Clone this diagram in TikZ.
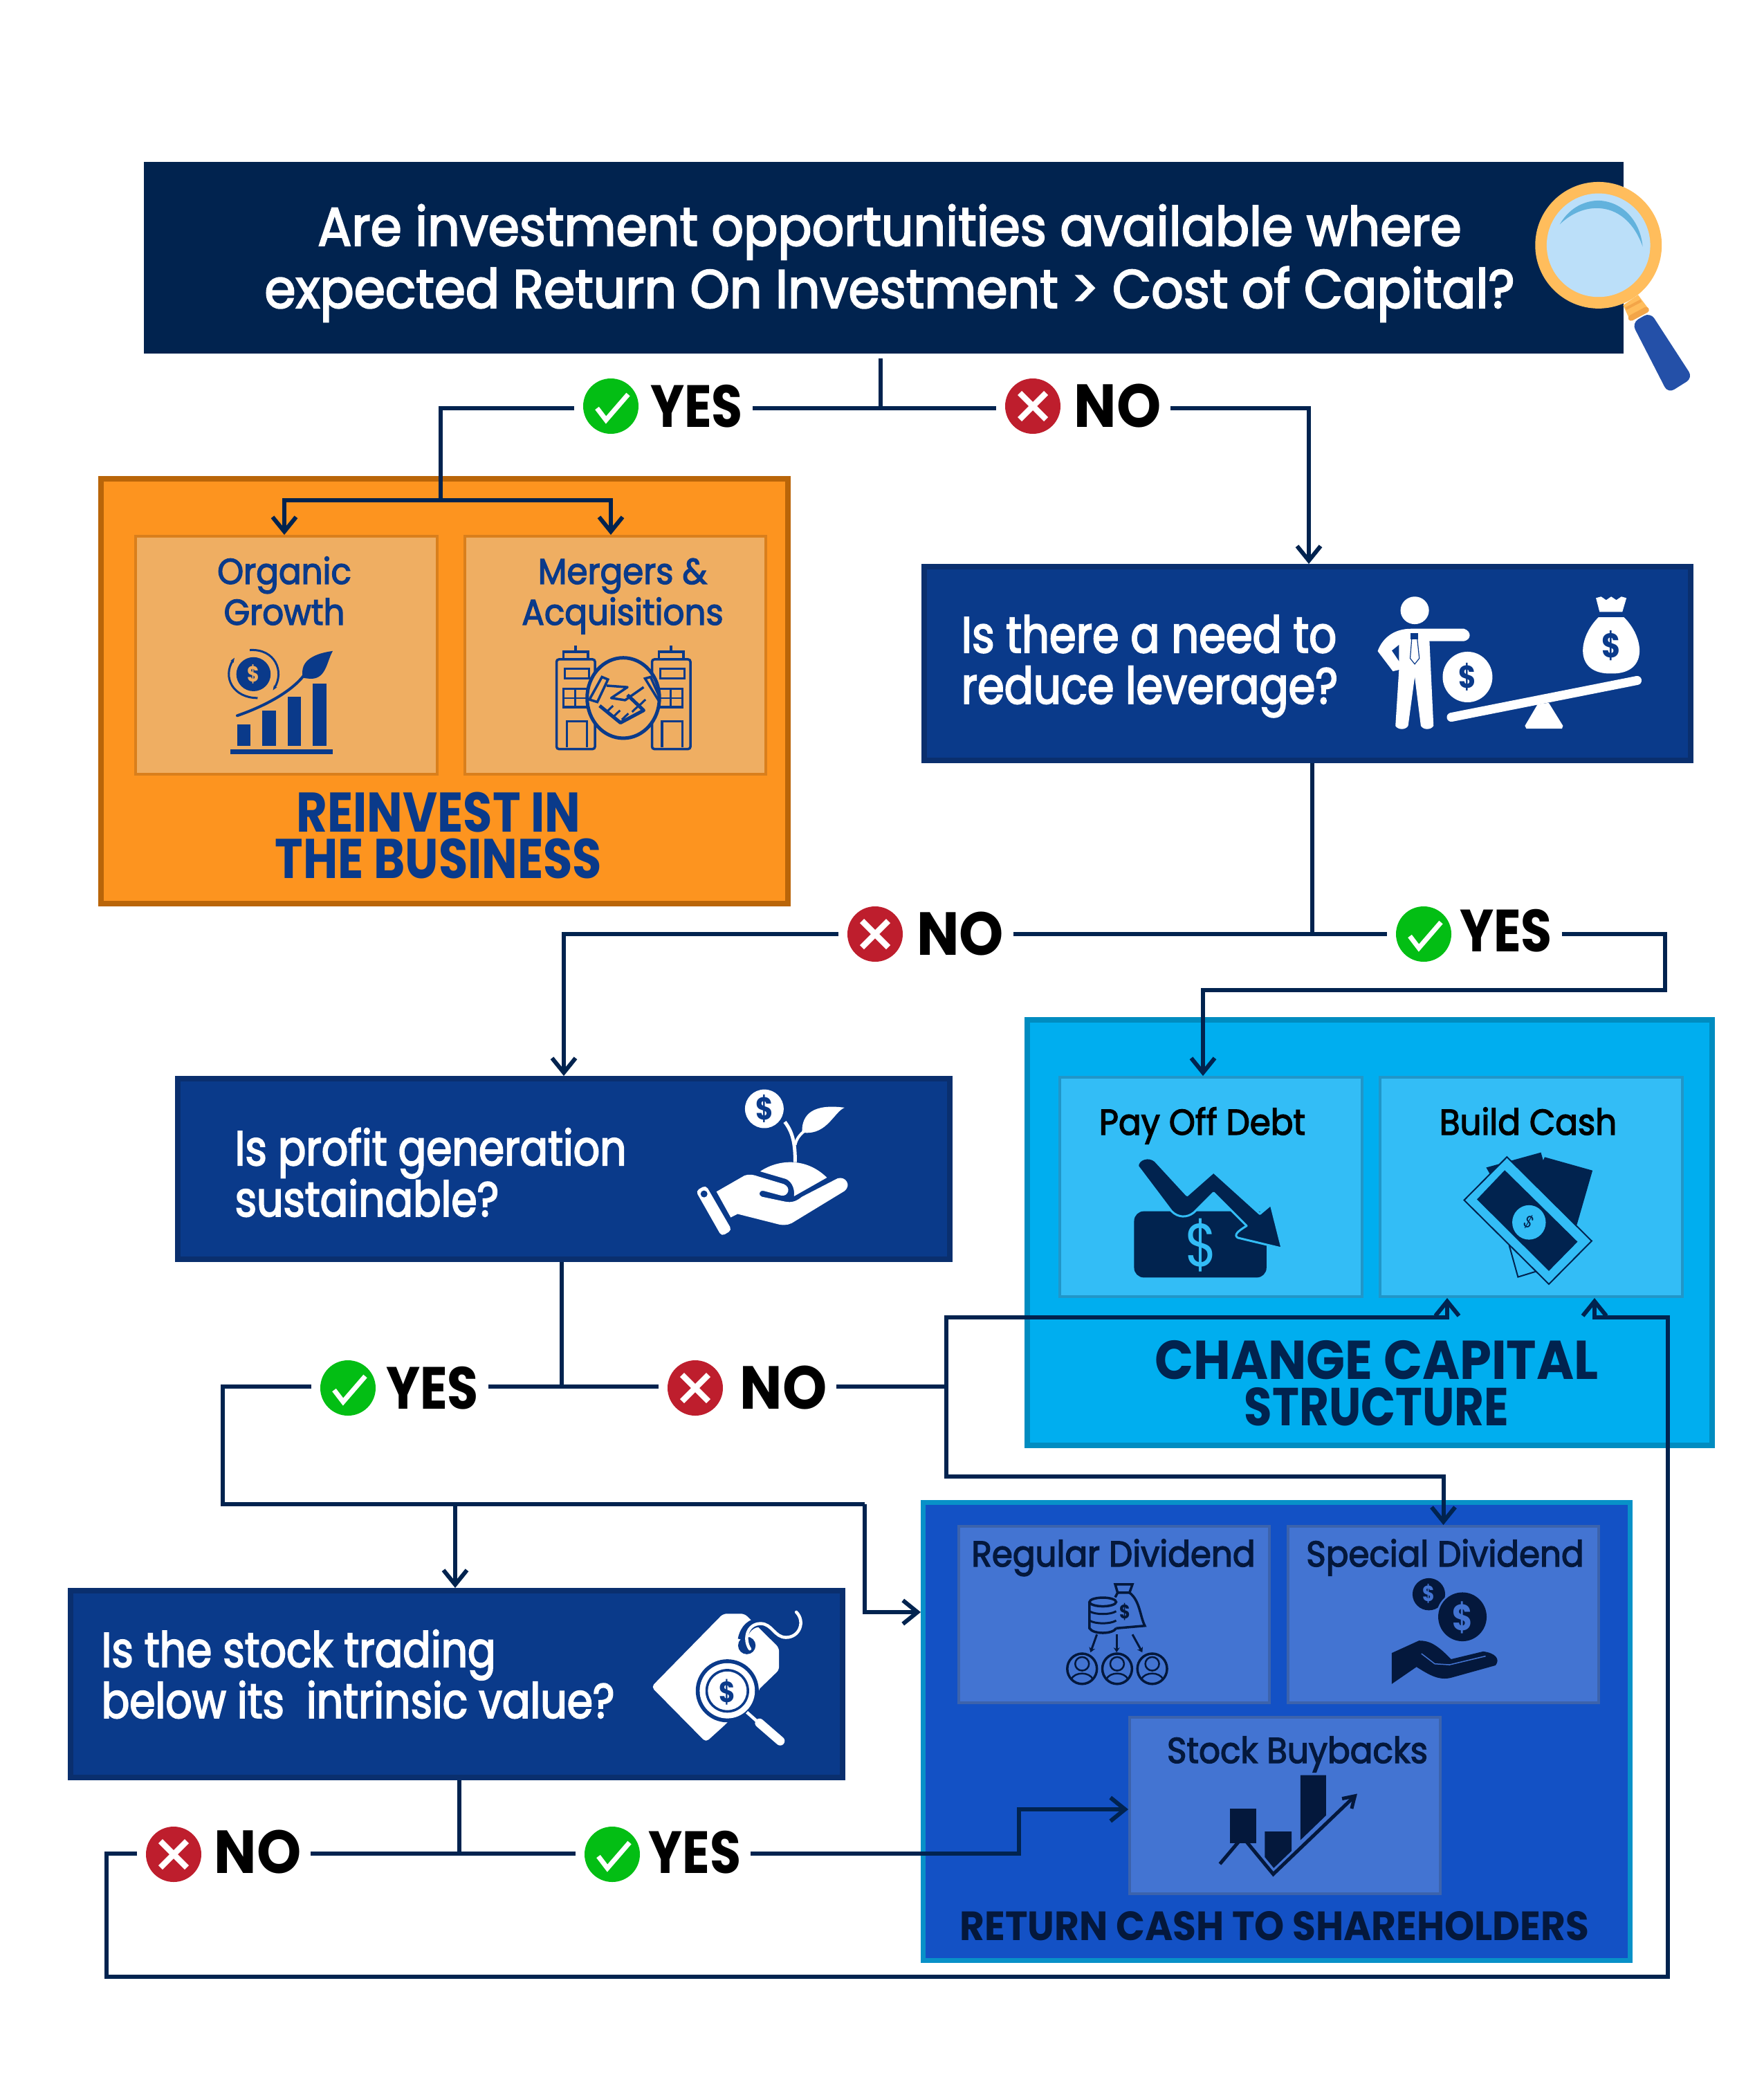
\documentclass[tikz,border=0pt]{standalone}
\usepackage{fontspec}
\usetikzlibrary{arrows.meta,positioning,calc}
\newfontfamily\gothic[FakeStretch=0.85]{Poppins}
\newfontfamily\gothicwide[FakeStretch=0.93]{Poppins}
\newfontfamily\gothicmed[FakeStretch=0.85,FakeBold=2.6]{Poppins}
\newfontfamily\gothicsemi[FakeStretch=0.93,FakeBold=2.6]{Poppins}
\definecolor{navy}{HTML}{01234F}
\definecolor{royal}{HTML}{0A3A8A}
\definecolor{royaldk}{HTML}{0A2F6E}
\definecolor{ember}{HTML}{FD941F}
\definecolor{emberdk}{HTML}{B96509}
\definecolor{sand}{HTML}{EFAE62}
\definecolor{sanddk}{HTML}{D97F1C}
\definecolor{sky}{HTML}{00AEEF}
\definecolor{skydk}{HTML}{008CC0}
\definecolor{skylt}{HTML}{33BDF6}
\definecolor{skymd}{HTML}{2196C8}
\definecolor{cobalt}{HTML}{1351C5}
\definecolor{teal}{HTML}{0891C8}
\definecolor{cobaltlt}{HTML}{4374D2}
\definecolor{cobaltmd}{HTML}{3C63AC}
\definecolor{inkdk}{HTML}{04183C}
\definecolor{okgreen}{HTML}{03BE14}
\definecolor{nored}{HTML}{BE1E2D}
\definecolor{gold}{HTML}{FFBD5C}
\definecolor{goldk}{HTML}{F3A548}
\definecolor{lens}{HTML}{BBDFF9}
\definecolor{glint}{HTML}{62B2DD}
\definecolor{grip}{HTML}{2450A8}
\tikzset{
  panel/.style n args={4}{draw=#1, fill=#2, line width=#3cm, minimum width=#4cm, inner sep=0pt},
  qbox/.style={panel={royaldk}{royal}{.08}{#1}},
  orgcard/.style={panel={sanddk}{sand}{.04}{#1}, minimum height=3.44cm},
  capcard/.style={panel={skymd}{skylt}{.04}{4.37}, minimum height=3.17cm},
  retcard/.style={panel={cobaltmd}{cobaltlt}{.04}{4.49}, minimum height=2.55cm},
  txt/.style={inner sep=0pt, anchor=base, align=center},
  qtxt/.style={txt, anchor=base west, align=left, text=white, font=\gothicmed\fontsize{20.1}{21}\selectfont},
  cardtxt/.style={txt, font=\gothicsemi\fontsize{14.8}{16.8}\selectfont},
  headtxt/.style={txt, font=\gothic\bfseries\fontsize{23}{19}\selectfont},
  yesdot/.style={circle, fill=okgreen, minimum size=.80cm, inner sep=0pt, outer sep=.13cm},
  nodot/.style={circle, fill=nored, minimum size=.80cm, inner sep=0pt, outer sep=.13cm},
  answer/.style={anchor=base, inner ysep=0pt, inner xsep=.13cm, font=\gothic\bfseries\fontsize{24.5}{24}\selectfont},
  flow/.style={draw=navy, line width=.06cm},
  arr/.style={flow, -{Straight Barb[length=.21cm,width=.34cm]}},
  icn/.style n args={4}{shift={(#1,#2)}, x=#3cm, y=-#4cm},
  coinlab/.style={inner sep=0pt, font=\gothic\bfseries\fontsize{#1}{#1}\selectfont},
}
\begin{document}
\begin{tikzpicture}[x=1cm,y=-1cm]
  \useasboundingbox (0,0) rectangle (25.5,30.25);
  \fill[white] (0,0) rectangle (25.5,30.25);

  \node[fill=navy, minimum width=21.39cm, minimum height=2.77cm, inner sep=0pt] (quest) at (12.775,3.725) {};
  \node[txt, text=white, font=\gothicsemi\fontsize{22.3}{25.6}\selectfont] (questtxt) at (12.86,4.45) {Are investment opportunities available where\\expected Return On Investment > Cost of Capital?};

  \node[panel={emberdk}{ember}{.08}{9.93}, minimum height=6.14cm] (reinvest) at (6.425,9.99) {};
  \node[orgcard=4.36] (organic) at (4.14,9.47) {};
  \node[orgcard=4.35] (mergers) at (8.895,9.47) {};
  \node[cardtxt, text=royal] (organictxt) at (4.11,9.03) {Organic\\Growth};
  \node[cardtxt, text=royal] (mergerstxt) at (9.00,9.03) {Mergers \&\\Acquisitions};
  \node[headtxt, text=royal] (reinvesttxt) at (6.34,12.69) {REINVEST IN\\THE BUSINESS};

  \node[qbox=11.08, minimum height=2.80cm] (lever) at (18.90,9.59) {};
  \node[qtxt, font=\gothicmed\fontsize{20.9}{21}\selectfont] (levertxt) at (13.89,10.17) {Is there a need to\\reduce leverage?};
  \node[qbox=11.16, minimum height=2.61cm] (profit) at (8.15,16.895) {};
  \node[qtxt] (profittxt) at (3.39,17.58) {Is profit generation\\sustainable?};
  \node[qbox=11.16, minimum height=2.70cm] (stockq) at (6.60,24.34) {};
  \node[qtxt] (stockqtxt) at (1.46,24.83) {Is the stock trading\\below its\ \ intrinsic value?};

  \node[panel={skydk}{sky}{.08}{9.90}, minimum height=6.15cm] (change) at (19.80,17.815) {};
  \node[capcard] (payoff) at (17.505,17.155) {};
  \node[capcard] (cash) at (22.135,17.155) {};
  \node[cardtxt] (payofftxt) at (17.38,16.40) {Pay Off Debt};
  \node[cardtxt] (cashtxt) at (22.09,16.40) {Build Cash};
  \node[headtxt, text=navy, font=\gothicwide\bfseries\fontsize{22.5}{19}\selectfont] (changetxt) at (19.90,20.60) {CHANGE CAPITAL\\\gothic\bfseries\fontsize{22}{19}\selectfont STRUCTURE};

  \node[panel={teal}{cobalt}{.07}{10.22}, minimum height=6.62cm] (ret) at (18.455,25.025) {};
  \node[retcard] (regular) at (16.105,23.335) {};
  \node[retcard] (special) at (20.865,23.335) {};
  \node[retcard] (buy) at (18.575,26.095) {};
  \node[cardtxt, text=inkdk] (regulartxt) at (16.095,22.64) {Regular Dividend};
  \node[cardtxt, text=inkdk] (specialtxt) at (20.89,22.64) {Special Dividend};
  \node[cardtxt, text=inkdk] (buytxt) at (18.755,25.48) {Stock Buybacks};
  \node[txt, text=inkdk, font=\gothicwide\bfseries\fontsize{16.8}{17}\selectfont] (rettxt) at (18.425,28.04) {RETURN CASH TO SHAREHOLDERS};

  \begin{scope}[icn={21.80}{2.30}{.003333}{.003333}]
    \fill[gold] (500,635) -- (565,590) -- (610,650) -- (530,700) -- cycle;
    \draw[goldk, line width=.04cm] (512,650) -- (578,615);
    \fill[grip, rounded corners=3pt] (538,712) -- (618,665) -- (803,950) -- (695,1018) -- cycle;
    \draw[goldk, line width=.085cm, line cap=round] (535,690) -- (600,655);
    \fill[gold] (393,374) circle[radius=275];
    \fill[lens] (393,374) circle[radius=225];
    \fill[glint] (225,283) .. controls (270,205) and (340,180) .. (395,180) .. controls (500,185) and (575,270) .. (585,380) .. controls (550,280) and (480,213) .. (385,213) .. controls (320,213) and (265,245) .. (225,283) -- cycle;
  \end{scope}

  \begin{scope}[icn={1.30}{6.40}{.0067}{.004464}]
    \fill[royal] (303,990) rectangle (524,1007);
    \foreach \x/\y in {318/910,372/866,427/820,481/778} \fill[royal] (\x,\y) rectangle (\x+29,980);
    \draw[royal, line width=.04cm, line cap=round] (318,882) .. controls (380,850) and (440,800) .. (465,745);
    \fill[royal] (460,760) .. controls (450,700) and (490,680) .. (524,673) .. controls (510,710) and (510,770) .. (470,762) -- cycle;
    \fill[royal] (353,748) circle[x radius=37,y radius=55];
    \node[coinlab=9, text=sand] (organiccoin) at (353,748) {\$};
    \draw[royal, line width=.03cm, -{Stealth[length=.07cm]}] (362,825) .. controls (310,825) and (285,760) .. (312,695);
    \draw[royal, line width=.03cm, -{Stealth[length=.07cm]}] (345,670) .. controls (400,665) and (420,740) .. (395,800);
    \foreach \x in {1007,1213} {
      \draw[royal, line width=.035cm, rounded corners=1pt] (\x,990) -- (\x,700) -- (\x+83,700) -- (\x+83,990) -- cycle;
      \draw[royal, line width=.035cm] (\x+15,700) -- (\x+15,675) -- (\x+68,675) -- (\x+68,700);
      \draw[royal, line width=.035cm] (\x+41,655) -- (\x+41,675);
      \draw[royal, line width=.035cm] (\x+18,730) rectangle (\x+70,762);
      \draw[royal, line width=.035cm] (\x+15,795) rectangle (\x+66,855);
      \draw[royal, line width=.025cm] (\x+40,795) -- (\x+40,855);
      \draw[royal, line width=.025cm] (\x+15,825) -- (\x+66,825);
      \draw[royal, line width=.035cm] (\x+22,985) -- (\x+22,900) -- (\x+66,900) -- (\x+66,985);
    }
    \draw[royal, fill=sand, line width=.05cm] (1151,825) circle[x radius=78,y radius=130];
    \draw[royal, line width=.035cm] (1078,830) -- (1105,757) -- (1118,765) -- (1095,838) -- cycle;
    \draw[royal, line width=.035cm] (1226,830) -- (1198,762) -- (1210,757) -- (1230,825) -- cycle;
    \draw[royal, line width=.035cm, line join=round] (1115,785) -- (1160,790) -- (1125,825) -- (1155,832) -- (1195,790);
    \draw[royal, line width=.05cm, line join=round] (1100,850) -- (1145,905) -- (1195,865) -- (1160,815);
    \foreach \x/\y in {1115/870,1130/885,1148/895,1170/870,1185/850} \draw[royal, line width=.03cm] (\x,\y) -- (\x+14,\y-20);
  \end{scope}

  \begin{scope}[icn={13.20}{8.00}{.007337}{.004146}]
    \fill[white] (988,198) circle[x radius=28,y radius=48];
    \fill[white] (950,600) -- (957,405) -- (945,410) -- (915,340) .. controls (925,290) and (950,262) .. (980,262) -- (1085,262) .. controls (1100,270) and (1100,300) .. (1085,305) -- (1017,305) -- (1025,600) .. controls (1020,615) and (1005,615) .. (1000,600) -- (988,430) -- (975,600) .. controls (970,615) and (955,615) .. (950,600) -- cycle;
    \fill[royal] (957,318) -- (943,338) -- (957,375) -- cycle;
    \fill[royal] (980,278) rectangle (995,298);
    \draw[royal, line width=.012cm] (982,298) -- (979,365) -- (988,385) -- (997,365) -- (993,298);
    \fill[white] (1092,430) circle[x radius=49,y radius=88];
    \node[coinlab=13, text=royal] (levercoin) at (1092,430) {\$};
    \fill[white] (1350,222) .. controls (1310,290) and (1300,420) .. (1375,418) .. controls (1450,420) and (1440,290) .. (1400,222) -- cycle;
    \fill[white] (1352,203) -- (1345,155) -- (1355,150) -- (1365,162) -- (1375,150) -- (1385,162) -- (1395,150) -- (1405,155) -- (1397,203) -- cycle;
    \node[coinlab=14, text=royal] (leverbag) at (1375,320) {\$};
    \draw[white, line width=.13cm, line cap=round] (1060,570) -- (1426,442);
    \fill[white] (1230,525) -- (1252,520) -- (1280,600) -- (1278,610) -- (1208,610) -- (1205,600) -- cycle;
  \end{scope}

  \begin{scope}[icn={9.00}{15.40}{.003333}{.003333}]
    \fill[white] (616,188) circle[radius=84];
    \node[coinlab=13, text=royal] (profitcoin) at (616,188) {\$};
    \draw[white, line width=.05cm] (705,245) .. controls (740,290) and (750,340) .. (750,420);
    \draw[white, line width=.04cm] (750,345) .. controls (755,320) and (770,300) .. (790,285);
    \fill[white] (780,285) .. controls (780,210) and (830,165) .. (965,183) .. controls (920,200) and (890,300) .. (790,292) -- cycle;
    \fill[white] (598,460) .. controls (680,405) and (800,400) .. (888,487) -- (745,568) .. controls (750,530) and (730,495) .. (700,490) -- cycle;
    \fill[white] (408,548) -- (530,478) .. controls (550,470) and (570,475) .. (590,482) -- (700,515) .. controls (735,530) and (720,570) .. (690,565) -- (615,545) .. controls (590,540) and (590,565) .. (605,570) -- (700,590) .. controls (740,600) and (760,585) .. (780,570) -- (935,490) .. controls (970,480) and (995,520) .. (965,545) -- (735,685) .. controls (715,695) and (690,695) .. (670,688) -- (500,645) -- (470,660) -- cycle;
    \fill[white, rounded corners=1.5pt] (318,545) -- (362,520) -- (475,715) -- (430,742) -- cycle;
    \fill[royal] (354,558) circle[radius=15];
  \end{scope}

  \begin{scope}[icn={9.00}{23.00}{.003333}{.003333}]
    \fill[white, rounded corners=1.5pt] (125,415) -- (437,97) -- (530,97) -- (680,245) -- (680,342) -- (445,580) -- (362,655) -- cycle;
    \fill[royal] (540,235) circle[radius=38];
    \draw[royal, line width=.13cm] (520,210) .. controls (530,160) and (560,135) .. (600,135);
    \fill[royal] (455,432) circle[radius=137];
    \fill[white] (455,432) circle[radius=120];
    \fill[royal] (455,432) circle[radius=95];
    \fill[white] (455,432) circle[radius=84];
    \node[coinlab=12, text=royal] (tagcoin) at (455,438) {\$};
    \fill[royal] (597,422) -- (680,342) -- (760,342) -- (760,680) -- (445,680) -- (445,580) -- (540,560) -- cycle;
    \draw[white, line width=.045cm] (540,525) -- (585,565);
    \draw[white, line width=.13cm, line cap=round] (595,572) -- (685,650);
    \draw[white, line width=.045cm, line cap=round] (553,250) .. controls (525,210) and (540,140) .. (600,140) .. controls (650,140) and (660,200) .. (710,200) .. controls (770,200) and (795,130) .. (755,90);
  \end{scope}

  \begin{scope}[icn={14.80}{15.40}{.006378}{.003827}]
    \fill[navy, rounded corners=4pt] (250,550) rectangle (550,800);
    \node[inner sep=0pt, font=\gothic\fontsize{25}{25}\selectfont, text=skylt] (payoffcoin) at (402,678) {\$};
    \fill[navy, draw=skylt, line width=.03cm, line join=round] (258,380) .. controls (258,350) and (285,340) .. (298,360) -- (370,490) -- (430,402) -- (535,560) -- (560,525) -- (585,690) -- (485,650) .. controls (475,640) and (485,625) .. (505,605) -- (430,480) -- (385,555) .. controls (370,575) and (350,575) .. (335,550) -- cycle;
    \fill[navy] (1180,348) -- (1287,398) -- (1250,610) -- (1150,450) -- cycle;
    \draw[navy, line width=.02cm] (1180,348) -- (1287,398) -- (1252,600);
    \fill[navy] (1048,385) -- (1172,328) -- (1205,520) -- (1060,420) -- cycle;
    \fill[skylt] (1100,678) -- (1120,798) -- (1165,775) -- cycle;
    \draw[navy, line width=.02cm] (1100,678) -- (1120,798) -- (1165,775);
    \fill[skylt, draw=navy, line width=.02cm] (1095,345) -- (1287,662) -- (1190,825) -- (998,508) -- cycle;
    \fill[navy] (1090,395) -- (1255,665) -- (1190,775) -- (1027,505) -- cycle;
    \fill[skylt] (1145,592) circle[x radius=38,y radius=65];
    \node[inner sep=0pt, font=\gothic\fontsize{7}{7}\selectfont, text=navy, rotate=-30] (cashcoin) at (1145,592) {\$};
  \end{scope}

  \begin{scope}[icn={13.30}{21.70}{.007143}{.004464}]
    \draw[inkdk, line width=.035cm] (343,325) -- (343,410) .. controls (350,430) and (390,430) .. (397,410);
    \draw[inkdk, line width=.035cm] (370,325) circle[x radius=27,y radius=14];
    \foreach \y in {355,385} \draw[inkdk, line width=.03cm] (343,\y) .. controls (355,\y+12) and (385,\y+12) .. (397,\y);
    \draw[inkdk, line width=.035cm] (395,268) -- (430,268) -- (424,295) -- (400,295) -- cycle;
    \draw[inkdk, line width=.035cm] (400,295) -- (395,310);
    \draw[inkdk, line width=.035cm] (424,295) .. controls (445,320) and (445,370) .. (455,402) -- (397,410);
    \node[coinlab=8, text=inkdk] (regularbag) at (415,358) {\$};
    \foreach \a/\b in {358/345,398/398,430/450} \draw[inkdk, line width=.03cm, -{Stealth[length=.07cm,width=.09cm]}] (\a,430) -- (\b,488);
    \foreach \x in {328,399,470} {
      \draw[inkdk, line width=.035cm] (\x,541) circle[x radius=30,y radius=49];
      \draw[inkdk, line width=.025cm] (\x,525) circle[x radius=14,y radius=22];
      \draw[inkdk, line width=.025cm] (\x-22,575) .. controls (\x-15,550) and (\x+15,550) .. (\x+22,575);
    }
    \fill[inkdk] (1030,300) circle[x radius=33,y radius=52];
    \node[coinlab=9, text=cobaltlt] (specialcoina) at (1030,298) {\$};
    \fill[cobaltlt] (1098,373) circle[x radius=53,y radius=84];
    \fill[inkdk] (1098,373) circle[x radius=49,y radius=79];
    \node[coinlab=15, text=cobaltlt] (specialcoinb) at (1098,375) {\$};
    \fill[inkdk] (955,590) -- (955,490) -- (1010,450) .. controls (1030,450) and (1045,460) .. (1075,510) -- (1140,485) .. controls (1165,490) and (1175,510) .. (1165,530) -- (1075,570) .. controls (1050,580) and (1030,560) .. (1005,535) -- cycle;
    \draw[cobaltlt, line width=.015cm] (1015,492) -- (1042,525) -- (1072,528) -- (1145,500);
    \fill[inkdk] (627,992) rectangle (680,1105);
    \fill[inkdk] (698,1067) -- (752,1067) -- (752,1130) -- (716,1185) -- (698,1150) -- cycle;
    \fill[inkdk] (770,885) -- (822,885) -- (822,1015) -- (770,1095) -- cycle;
    \draw[inkdk, line width=.05cm, -{Straight Barb[length=.16cm,width=.2cm]}] (607,1172) -- (653,1085) -- (715,1205) -- (885,945);
  \end{scope}

  \foreach \i/\x/\y/\tx/\ty in {1/8.83/5.87/10.07/6.17, 2/20.58/13.50/21.77/13.75, 3/5.03/20.06/6.25/20.36, 4/8.85/26.80/10.045/27.07} {
    \node[yesdot] (yesdot\i) at (\x,\y) {};
    \draw[white, line width=.07cm] ([shift={(-.20,.03)}]yesdot\i.center) -- ([shift={(-.07,.20)}]yesdot\i.center) -- ([shift={(.25,-.17)}]yesdot\i.center);
    \node[answer] (yeslab\i) at (\tx,\ty) {YES};
  }
  \foreach \i/\x/\y/\tx/\ty in {1/14.93/5.87/16.155/6.17, 2/12.65/13.50/13.88/13.80, 3/10.05/20.06/11.325/20.36, 4/2.51/26.80/3.725/27.07} {
    \node[nodot] (nodot\i) at (\x,\y) {};
    \draw[white, line width=.085cm] ([shift={(-.19,-.19)}]nodot\i.center) -- ([shift={(.19,.19)}]nodot\i.center);
    \draw[white, line width=.085cm] ([shift={(.19,-.19)}]nodot\i.center) -- ([shift={(-.19,.19)}]nodot\i.center);
    \node[answer, font=\gothicwide\bfseries\fontsize{25}{24}\selectfont] (nolab\i) at (\tx,\ty) {NO};
  }

  \coordinate (q1) at (12.73,5.18);
  \coordinate (j1) at (12.73,5.90);
  \coordinate (j2) at (6.37,7.23);
  \coordinate (j3) at (18.97,13.50);
  \coordinate (j4) at (24.07,14.31);
  \coordinate (j5) at (8.12,20.04);
  \coordinate (j6) at (3.22,21.74);
  \coordinate (j7) at (12.50,21.74);
  \coordinate (j8) at (12.50,23.30);
  \coordinate (j9) at (6.58,21.74);
  \coordinate (j10) at (13.68,20.04);
  \coordinate (j11) at (13.68,19.04);
  \coordinate (j12) at (13.68,21.34);
  \coordinate (j13) at (6.64,26.79);
  \coordinate (j14) at (14.73,26.15);
  \coordinate (j15) at (1.54,28.57);
  \coordinate (j16) at (24.11,19.04);

  \draw[flow] (q1) -- (j1) -- (yeslab1.east |- j1);
  \draw[flow] (yesdot1.west |- j1) -| (j2);
  \draw[arr] (j2) -| ([xshift=-.03cm]organic.north);
  \draw[arr] (j2) -| ([xshift=-.065cm]mergers.north);
  \draw[flow] (j1) -- (nodot1.west |- j1);
  \draw[arr] (nolab1.east |- j1) -| ([xshift=.02cm]lever.north);

  \draw[flow] (lever.south -| j3) -- (j3) -- (yesdot2.west |- j3);
  \draw[flow] (j3) -- (nolab2.east |- j3);
  \draw[arr] (nodot2.west |- j3) -| (profit.north);
  \draw[arr] (yeslab2.east |- j3) -| (j4) -| ([xshift=-.115cm]payoff.north);

  \draw[flow] (profit.south -| j5) -- (j5) -- (yeslab3.east |- j5);
  \draw[flow] (yesdot3.west |- j5) -| (j6) -- (j7);
  \draw[arr] (j7) -- (j8) -- (j8 -| ret.west);
  \draw[arr] (j9) -- (j9 |- stockq.north);
  \draw[flow] (j5) -- (nodot3.west |- j5);
  \draw[flow] (nolab3.east |- j5) -- (j10);
  \draw[arr] (j10) -- (j11) -| ([xshift=-1.215cm]cash.south);
  \draw[arr] (j10) -- (j12) -| (special.north);

  \draw[flow] (stockq.south -| j13) -- (j13) -- (yesdot4.west |- j13);
  \draw[flow] (j13) -- (nolab4.east |- j13);
  \draw[arr] (yeslab4.east |- j13) -| (j14) -- (j14 -| buy.west);
  \draw[arr] (nodot4.west |- j13) -| (j15) -| (j16) -| ([xshift=.915cm]cash.south);
\end{tikzpicture}
\end{document}
